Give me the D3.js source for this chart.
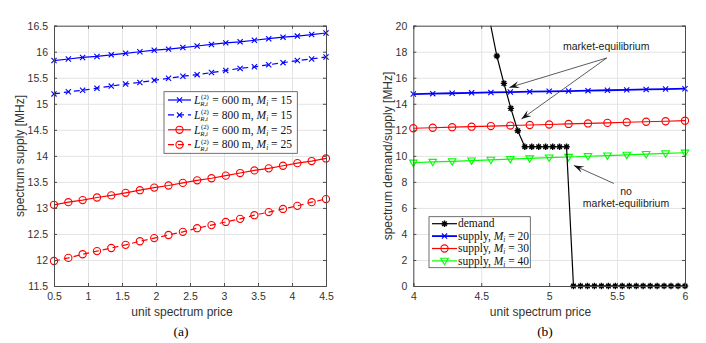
<!DOCTYPE html>
<html>
<head>
<meta charset="utf-8">
<script src="https://cdn.jsdelivr.net/npm/d3@7"></script>
<style>
body { margin: 0; background: #fff; }
svg { display: block; }
</style>
</head>
<body>
<svg class="main" width="706" height="343"></svg>
<script>
// (a) supply vs unit price
var priceA = [0.5, 0.711, 0.921, 1.132, 1.342, 1.553, 1.763, 1.974, 2.184, 2.395,
  2.605, 2.816, 3.026, 3.237, 3.447, 3.658, 3.868, 4.079, 4.289, 4.5]
var supply600m15 = [15.83, 15.86, 15.89, 15.91, 15.94, 15.97, 16.00, 16.03, 16.05, 16.08,
  16.11, 16.14, 16.17, 16.19, 16.22, 16.25, 16.28, 16.30, 16.33, 16.36]
var supply800m15 = [15.19, 15.23, 15.26, 15.30, 15.34, 15.38, 15.41, 15.45, 15.49, 15.53,
  15.56, 15.60, 15.64, 15.68, 15.71, 15.75, 15.79, 15.83, 15.86, 15.90]
var supply600m25 = [13.06, 13.11, 13.15, 13.20, 13.24, 13.29, 13.34, 13.39, 13.43, 13.48,
  13.53, 13.57, 13.62, 13.67, 13.72, 13.76, 13.81, 13.86, 13.90, 13.95]
var supply800m25 = [11.98, 12.04, 12.11, 12.17, 12.23, 12.29, 12.36, 12.42, 12.48, 12.54,
  12.61, 12.67, 12.73, 12.79, 12.86, 12.92, 12.98, 13.04, 13.11, 13.17]

// (b) demand and supply vs unit price
var priceB = [4, 4.143, 4.286, 4.429, 4.571, 4.714, 4.857, 5, 5.143, 5.286,
  5.429, 5.571, 5.714, 5.857, 6]
var supplyM20 = [14.75, 14.78, 14.81, 14.84, 14.87, 14.90, 14.93, 14.96, 14.98, 15.01,
  15.04, 15.07, 15.10, 15.13, 15.16]
var supplyM30 = [12.12, 12.16, 12.20, 12.24, 12.29, 12.33, 12.37, 12.41, 12.45, 12.49,
  12.53, 12.58, 12.62, 12.66, 12.70]
var supplyM40 = [9.47, 9.53, 9.58, 9.64, 9.69, 9.75, 9.80, 9.86, 9.91, 9.97,
  10.02, 10.08, 10.13, 10.19, 10.24]
var priceDemand = [4, 4.051, 4.103, 4.154, 4.205, 4.256, 4.308, 4.359, 4.41, 4.462,
  4.513, 4.564, 4.615, 4.667, 4.718, 4.769, 4.821, 4.872, 4.923, 4.974,
  5.026, 5.077, 5.128, 5.179, 5.231, 5.282, 5.333, 5.385, 5.436, 5.487,
  5.538, 5.59, 5.641, 5.692, 5.744, 5.795, 5.846, 5.897, 5.949, 6]
var demand = [52.0, 48.1, 44.4, 40.9, 37.6, 34.5, 31.6, 28.9, 26.4, 24.1,
  22.1, 20.33, 17.67, 15.57, 13.65, 11.93, 10.7, 10.7, 10.7, 10.7,
  10.7, 10.7, 10.7, 0, 0, 0, 0, 0, 0, 0,
  0, 0, 0, 0, 0, 0, 0, 0, 0, 0]

// ticks
var xTicksA = [0.5, 1, 1.5, 2, 2.5, 3, 3.5, 4, 4.5]
var yTicksA = [11.5, 12, 12.5, 13, 13.5, 14, 14.5, 15, 15.5, 16, 16.5]
var xTicksB = [4, 4.5, 5, 5.5, 6]
var yTicksB = [0, 2, 4, 6, 8, 10, 12, 14, 16, 18, 20]

var svg = d3.select('svg.main')
var sans = '"Liberation Sans", Arial, sans-serif'
var serif = '"Liberation Serif", "DejaVu Serif", serif'

// marker shapes
var markers = {
  x: 'M-2.6,-2.6L2.6,2.6M-2.6,2.6L2.6,-2.6',
  star: 'M-3.2,0L3.2,0M0,-3.2L0,3.2M-2.3,-2.3L2.3,2.3M-2.3,2.3L2.3,-2.3',
  circle: 'M3.6,0A3.6,3.6 0 1,1 -3.6,0A3.6,3.6 0 1,1 3.6,0Z',
  tri: 'M-3.8,-2.6L3.8,-2.6L0,3.8Z'
}

function makeAxes(id, left, width, xDomain, yDomain, xTicks, yTicks) {
  var top = 25.7, height = 260.3
  var x = d3.scaleLinear().domain(xDomain).range([0, width])
  var y = d3.scaleLinear().domain(yDomain).range([height, 0])
  var g = svg.append('g').attr('transform', `translate(${left}, ${top})`)

  g.append('clipPath').attr('id', id).append('rect')
    .attr('width', width).attr('height', height)

  // grid
  g.append('g').attr('transform', `translate(0, ${height})`)
    .call(d3.axisBottom(x).tickValues(xTicks).tickSize(-height).tickFormat(''))
    .call(s => s.select('.domain').remove())
    .selectAll('line').attr('stroke', '#e3e3e3')
  g.append('g')
    .call(d3.axisLeft(y).tickValues(yTicks).tickSize(-width).tickFormat(''))
    .call(s => s.select('.domain').remove())
    .selectAll('line').attr('stroke', '#e3e3e3')

  var plot = g.append('g')

  // box + inward ticks
  var axes = g.append('g')
  axes.append('g').attr('transform', `translate(0, ${height})`)
    .call(d3.axisBottom(x).tickValues(xTicks).tickSize(-3).tickPadding(7).tickFormat(d => String(d)))
  axes.append('g')
    .call(d3.axisTop(x).tickValues(xTicks).tickSize(-3).tickFormat(''))
  axes.append('g')
    .call(d3.axisLeft(y).tickValues(yTicks).tickSize(-3).tickPadding(6).tickFormat(d => String(d)))
  axes.append('g').attr('transform', `translate(${width}, 0)`)
    .call(d3.axisRight(y).tickValues(yTicks).tickSize(-3).tickFormat(''))
  axes.selectAll('.domain').attr('stroke', '#4d4d4d')
  axes.selectAll('.tick line').attr('stroke', '#4d4d4d')
  axes.selectAll('text')
    .attr('font-family', sans)
    .attr('font-size', 10.5)
    .attr('fill', '#333')

  return {g: g, plot: plot, x: x, y: y, width: width, height: height}
}

function addSeries(ax, xs, ys, color, marker, dash, lw) {
  var pts = xs.map((d, i) => [d, ys[i]])
  var line = d3.line().x(d => ax.x(d[0])).y(d => ax.y(d[1]))
  ax.plot.append('path')
    .attr('d', line(pts))
    .attr('fill', 'none')
    .attr('stroke', color)
    .attr('stroke-width', lw)
    .attr('stroke-dasharray', dash)
    .attr('clip-path', `url(#${ax.id})`)
  var yd = ax.y.domain()
  ax.plot.selectAll(null)
    .data(pts.filter(d => d[1] >= yd[0] && d[1] <= yd[1]))
    .join('path')
    .attr('transform', d => `translate(${ax.x(d[0])}, ${ax.y(d[1])})`)
    .attr('d', markers[marker])
    .attr('fill', marker == 'star' ? color : 'none')
    .attr('stroke', color)
    .attr('stroke-width', marker == 'star' ? 1.4 : 1.1)
}

// panel (a)
var axA = makeAxes('clipA', 54, 272, [0.5, 4.5], [11.5, 16.5], xTicksA, yTicksA)
axA.id = 'clipA'
addSeries(axA, priceA, supply600m15, '#0000ff', 'x', null, 1.2)
addSeries(axA, priceA, supply800m15, '#0000ff', 'x', '6,4', 1.2)
addSeries(axA, priceA, supply600m25, '#ff0000', 'circle', null, 1.2)
addSeries(axA, priceA, supply800m25, '#ff0000', 'circle', '6,4', 1.2)

// panel (b)
var axB = makeAxes('clipB', 413.3, 271.7, [4, 6], [0, 20], xTicksB, yTicksB)
axB.id = 'clipB'
addSeries(axB, priceB, supplyM20, '#0000ff', 'x', null, 1.8)
addSeries(axB, priceB, supplyM30, '#ff0000', 'circle', null, 1.2)
addSeries(axB, priceB, supplyM40, '#00ff00', 'tri', null, 1.2)
addSeries(axB, priceDemand, demand, '#000000', 'star', null, 1.2)

// axis labels
function label(txt, x, y, rot) {
  svg.append('text')
    .attr('transform', `translate(${x}, ${y})` + (rot ? ' rotate(-90)' : ''))
    .attr('text-anchor', 'middle')
    .attr('font-family', sans)
    .attr('font-size', 12)
    .attr('fill', '#333')
    .text(txt)
}
label('unit spectrum price', 182, 316)
label('spectrum supply [MHz]', 24, 156, true)
label('unit spectrum price', 540.5, 316)
label('spectrum demand/supply [MHz]', 392, 156, true)

svg.append('text').attr('x', 181).attr('y', 336)
  .attr('text-anchor', 'middle').attr('font-family', serif).attr('font-size', 13.5)
  .text('(a)')
svg.append('text').attr('x', 545).attr('y', 336)
  .attr('text-anchor', 'middle').attr('font-family', serif).attr('font-size', 13.5)
  .text('(b)')

// legends
function legendBox(x0, y0, w, h) {
  var g = svg.append('g').attr('transform', `translate(${x0}, ${y0})`)
  g.append('rect').attr('width', w).attr('height', h)
    .attr('fill', '#fff').attr('stroke', '#4d4d4d').attr('stroke-width', 0.8)
  return g
}
function legendSample(g, x1, x2, y, color, marker, dash, lw) {
  g.append('line').attr('x1', x1).attr('x2', x2).attr('y1', y).attr('y2', y)
    .attr('stroke', color).attr('stroke-width', lw).attr('stroke-dasharray', dash)
  g.append('path').attr('transform', `translate(${(x1 + x2) / 2}, ${y})`)
    .attr('d', markers[marker])
    .attr('fill', marker == 'star' ? color : 'none')
    .attr('stroke', color)
    .attr('stroke-width', marker == 'star' ? 1.4 : 1.1)
}

var legA = [
  {dist: '600', m: '15', color: '#0000ff', marker: 'x', dash: null},
  {dist: '800', m: '15', color: '#0000ff', marker: 'x', dash: '6,4'},
  {dist: '600', m: '25', color: '#ff0000', marker: 'circle', dash: null},
  {dist: '800', m: '25', color: '#ff0000', marker: 'circle', dash: '6,4'}
]
var gA = legendBox(164, 91.7, 133.3, 61.6)
legA.forEach((d, i) => {
  var y = 8.3 + i * 14.9
  legendSample(gA, 4, 27, y, d.color, d.marker, d.dash, 1.2)
  var t = gA.append('text').attr('x', 30).attr('y', y + 3.8)
    .attr('font-family', serif).attr('font-size', 11.5).attr('fill', '#111')
  t.append('tspan').attr('font-style', 'italic').text('L')
  t.append('tspan').attr('font-size', 6.8).attr('dy', -4.6).attr('dx', 0.5).text('(2)')
  t.append('tspan').attr('font-size', 6.8).attr('font-style', 'italic').attr('dx', -8.6).attr('dy', 7.2).text('R,i')
  t.append('tspan').attr('dy', -2.6).attr('dx', 1.5).text(' = ' + d.dist + ' m, ')
  t.append('tspan').attr('font-style', 'italic').text('M')
  t.append('tspan').attr('font-size', 7.5).attr('font-style', 'italic').attr('dy', 2).text('i')
  t.append('tspan').attr('dy', -2).text(' = ' + d.m)
})

var legB = [
  {name: 'demand', color: '#000000', marker: 'star', lw: 1.2},
  {name: '20', color: '#0000ff', marker: 'x', lw: 1.8},
  {name: '30', color: '#ff0000', marker: 'circle', lw: 1.2},
  {name: '40', color: '#00ff00', marker: 'tri', lw: 1.2}
]
var gB = legendBox(429, 216.7, 101.3, 51)
legB.forEach((d, i) => {
  var y = 7 + i * 12.4
  legendSample(gB, 3, 28, y, d.color, d.marker, null, d.lw)
  var t = gB.append('text').attr('x', 29).attr('y', y + 3.8)
    .attr('font-family', serif).attr('font-size', 11.5).attr('fill', '#111')
  if (d.name == 'demand') { t.text('demand'); return }
  t.append('tspan').text('supply, ')
  t.append('tspan').attr('font-style', 'italic').text('M')
  t.append('tspan').attr('font-size', 7.5).attr('font-style', 'italic').attr('dy', 2).text('i')
  t.append('tspan').attr('dy', -2).text(' = ' + d.name)
})

// annotations
var x = axB.x, y = axB.y
function arrow(x1, y1, x2, y2) {
  var ax = axB.g
  var px1 = x(x1), py1 = y(y1), px2 = x(x2), py2 = y(y2)
  var ang = Math.atan2(py2 - py1, px2 - px1)
  ax.append('line').attr('x1', px1).attr('y1', py1).attr('x2', px2).attr('y2', py2)
    .attr('stroke', '#333').attr('stroke-width', 0.8)
  var hl = 10, hw = 3.5
  var bx = px2 - hl * Math.cos(ang), by = py2 - hl * Math.sin(ang)
  var mx = px2 - hl * 0.6 * Math.cos(ang), my = py2 - hl * 0.6 * Math.sin(ang)
  var nx = -Math.sin(ang) * hw, ny = Math.cos(ang) * hw
  ax.append('path')
    .attr('d', `M${px2},${py2}L${bx + nx},${by + ny}L${mx},${my}L${bx - nx},${by - ny}Z`)
    .attr('fill', '#111')
}
function note(txt, xv, yv) {
  axB.g.append('text').attr('x', x(xv)).attr('y', y(yv))
    .attr('text-anchor', 'middle').attr('font-family', sans).attr('font-size', 10.5)
    .attr('fill', '#222').text(txt)
}
arrow(5.424, 17.52, 4.707, 15.25)
arrow(5.424, 17.52, 4.796, 12.83)
arrow(5.476, 7.88, 5.182, 9.26)
note('market-equilibrium', 5.42, 18.17)
note('no', 5.566, 6.97)
note('market-equilibrium', 5.566, 6.07)
</script>
</body>
</html>
